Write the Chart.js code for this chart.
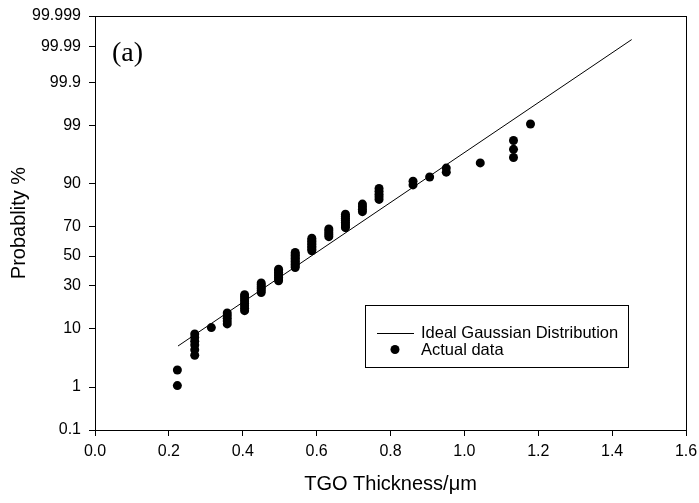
<!DOCTYPE html>
<html>
<head>
<meta charset="utf-8">
<script src="https://cdn.jsdelivr.net/npm/chart.js@4"></script>
<style>
  body { margin: 0; background: #fff; }
</style>
</head>
<body>
<canvas id="probChart" width="699" height="503"></canvas>
<script>
// probability plot, y axis is a normal probability (probit) scale
const colThickness = [0.223, 0.270, 0.315, 0.358, 0.405, 0.450, 0.497, 0.542, 0.587, 0.633,
                      0.678, 0.724, 0.769, 0.861, 0.906, 0.951, 1.043, 1.133, 1.179];
const colProbability = [
    [1.07, 2.15],
    [3.9, 4.8, 5.7, 6.5, 7.4, 8.3],
    [10.2],
    [11.4, 12.4, 13.5, 14.5, 15.6],
    [16.6, 17.7, 18.9, 20.0, 21.2, 22.3, 23.5, 24.6],
    [25.9, 27.0, 28.2, 29.3, 30.5, 31.6],
    [33.0, 34.1, 35.2, 36.3, 37.5, 38.6, 39.7, 40.8],
    [41.9, 43.0, 44.0, 45.1, 46.1, 47.2, 48.3, 49.3, 50.4, 51.4, 52.5],
    [53.7, 54.8, 55.9, 57.0, 58.1, 59.1, 60.2, 61.3, 62.4],
    [63.5, 64.8, 66.0, 67.3, 68.5],
    [69.3, 70.4, 71.5, 72.6, 73.8, 74.9, 76.0, 77.1],
    [78.5, 79.7, 81.0, 82.2],
    [84.3, 85.4, 86.4, 87.5, 88.5],
    [89.7, 90.8],
    [92.0],
    [93.2, 94.1],
    [95.1],
    [96.0, 97.1, 98.0],
    [99.05]
];
const fitThickness = [0.2247, 1.453];
const fitProbability = [5.5, 99.994];
const yTickLabels = ['0.1', '1', '10', '30', '50', '70', '90', '99', '99.9', '99.99', '99.999'];

// inverse normal cdf (Acklam)
function probit(p) {
    const a = [-39.69683028665376, 220.9460984245205, -275.9285104469687, 138.3577518672690, -30.66479806614716, 2.506628277459239];
    const b = [-54.47609879822406, 161.5858368580409, -155.6989798598866, 66.80131188771972, -13.28068155288572];
    const c = [-0.007784894002430293, -0.3223964580411365, -2.400758277161838, -2.549732539343734, 4.374664141464968, 2.938163982698783];
    const d = [0.007784695709041462, 0.3224671290700398, 2.445134137142996, 3.754408661907416];
    const pl = 0.02425;
    let q, r;
    if (p < pl) {
        q = Math.sqrt(-2 * Math.log(p));
        return (((((c[0]*q+c[1])*q+c[2])*q+c[3])*q+c[4])*q+c[5]) / ((((d[0]*q+d[1])*q+d[2])*q+d[3])*q+1);
    }
    if (p > 1 - pl) {
        q = Math.sqrt(-2 * Math.log(1 - p));
        return -(((((c[0]*q+c[1])*q+c[2])*q+c[3])*q+c[4])*q+c[5]) / ((((d[0]*q+d[1])*q+d[2])*q+d[3])*q+1);
    }
    q = p - 0.5;
    r = q * q;
    return (((((a[0]*r+a[1])*r+a[2])*r+a[3])*r+a[4])*r+a[5])*q / (((((b[0]*r+b[1])*r+b[2])*r+b[3])*r+b[4])*r+1);
}
const pz = pct => probit(pct / 100);

const actualPoints = [];
colThickness.forEach((t, i) => {
    colProbability[i].forEach(p => actualPoints.push({ x: t, y: pz(p) }));
});
const fitPoints = fitThickness.map((t, i) => ({ x: t, y: pz(fitProbability[i]) }));

const FONT = "'Liberation Sans', Arial, sans-serif";

// box around the plot area
const frame = {
    id: 'frame',
    afterDraw(chart) {
        const { ctx, chartArea: a } = chart;
        ctx.save();
        ctx.strokeStyle = '#000';
        ctx.lineWidth = 1;
        ctx.strokeRect(Math.round(a.left) + 0.5, Math.round(a.top) + 0.5,
                       Math.round(a.right - a.left), Math.round(a.bottom - a.top));
        ctx.restore();
    }
};

// boxed legend and the (a) label
const boxLegend = {
    id: 'boxLegend',
    afterDraw(chart) {
        const ctx = chart.ctx;
        const ds = chart.data.datasets;
        ctx.save();
        ctx.strokeStyle = '#000';
        ctx.lineWidth = 1;
        ctx.strokeRect(365.5, 305.5, 263, 62);
        ctx.font = '16.5px ' + FONT;
        ctx.fillStyle = '#000';
        ctx.textBaseline = 'middle';
        ctx.beginPath();
        ctx.moveTo(377, 333.5);
        ctx.lineTo(414, 333.5);
        ctx.stroke();
        ctx.fillText(ds[0].label, 421, 333);
        ctx.beginPath();
        ctx.arc(395, 349.5, 4.5, 0, Math.PI * 2);
        ctx.fill();
        ctx.fillText(ds[1].label, 421, 350);

        ctx.font = '28px "Liberation Serif", "Times New Roman", serif';
        ctx.textBaseline = 'alphabetic';
        ctx.fillText('(a)', 112, 61);
        ctx.restore();
    }
};

new Chart(document.getElementById('probChart'), {
    type: 'scatter',
    data: {
        datasets: [{
            label: 'Ideal Gaussian Distribution',
            data: fitPoints,
            showLine: true,
            borderColor: '#000',
            borderWidth: 1,
            pointRadius: 0,
            fill: false
        }, {
            label: 'Actual data',
            data: actualPoints,
            backgroundColor: '#000',
            borderColor: '#000',
            pointRadius: 4.5,
            borderWidth: 0
        }]
    },
    options: {
        responsive: false,
        animation: false,
        layout: { padding: { left: 0, right: 13, top: 16, bottom: 0 } },
        plugins: {
            legend: { display: false },
            tooltip: { enabled: false }
        },
        scales: {
            x: {
                type: 'linear',
                min: 0,
                max: 1.6,
                afterFit: s => {
                    s.height = 73;
                    s.paddingLeft = 0;
                    s.paddingRight = 0;
                },
                ticks: {
                    stepSize: 0.2,
                    color: '#000',
                    padding: 6,
                    font: { family: FONT, size: 16 },
                    callback: v => v.toFixed(1)
                },
                grid: { drawOnChartArea: false, tickLength: 6, color: '#000' },
                border: { color: '#000' },
                title: {
                    display: true,
                    text: 'TGO Thickness/μm',
                    color: '#000',
                    font: { family: FONT, size: 20 },
                    padding: { top: 0, bottom: 7 }
                }
            },
            y: {
                type: 'linear',
                min: pz(0.1),
                max: pz(99.999),
                afterFit: s => {
                    s.width = 95;
                    s.paddingTop = 0;
                    s.paddingBottom = 0;
                },
                afterBuildTicks: s => {
                    s.ticks = yTickLabels.map(l => ({ value: pz(parseFloat(l)) }));
                },
                ticks: {
                    color: '#000',
                    padding: 8,
                    font: { family: FONT, size: 16 },
                    callback: (v, i) => yTickLabels[i]
                },
                grid: { drawOnChartArea: false, tickLength: 6, color: '#000' },
                border: { color: '#000' },
                title: {
                    display: true,
                    text: 'Probablity %',
                    color: '#000',
                    font: { family: FONT, size: 20 },
                    padding: { top: 7, bottom: 0 }
                }
            }
        }
    },
    plugins: [frame, boxLegend]
});
</script>
</body>
</html>
